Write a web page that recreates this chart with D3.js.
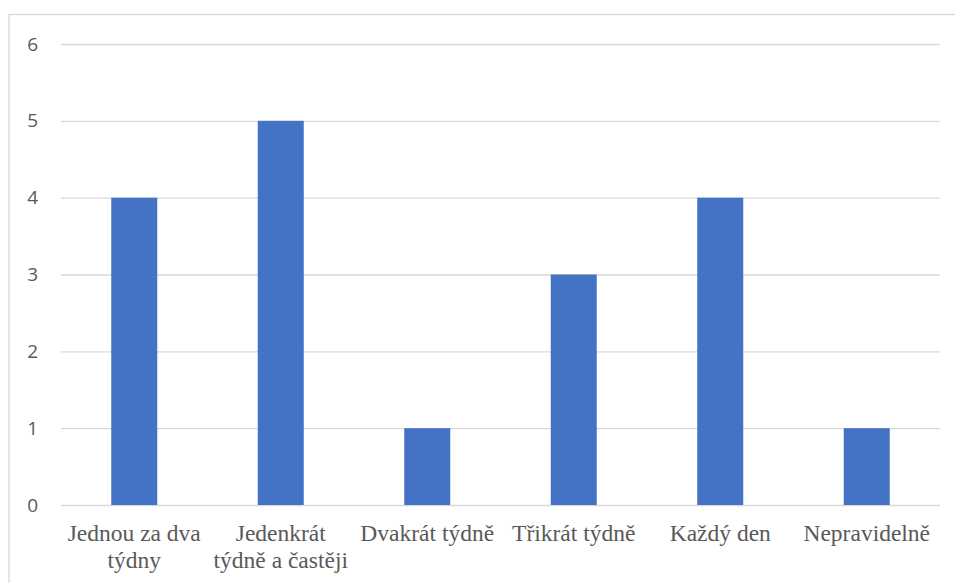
<!DOCTYPE html>
<html>
<head>
<meta charset="utf-8">
<script src="https://cdn.jsdelivr.net/npm/d3@7"></script>
<style>
  html, body { margin: 0; padding: 0; background: #fff; }
  svg { display: block; }
  .cat-label { font-family: "Liberation Serif", "DejaVu Serif", "Times New Roman", serif; font-size: 23.5px; }
  .val-label { font-family: "Open Sans", "Noto Sans", sans-serif; font-size: 19px; }
</style>
</head>
<body>
<svg id="chart" width="955" height="583"></svg>
<script>
// How often – answer categories and counts
const categories = [
  ["Jednou za dva", "týdny"],
  ["Jedenkrát", "týdně a častěji"],
  ["Dvakrát týdně"],
  ["Třikrát týdně"],
  ["Každý den"],
  ["Nepravidelně"]
];
const values = [4, 5, 1, 3, 4, 1];
const yTicks = [0, 1, 2, 3, 4, 5, 6];

const svg = d3.select("#chart");
const W = 955, H = 583;
const margin = { left: 61, right: 15, top: 44, bottom: 78 };
const innerW = W - margin.left - margin.right;
const innerH = H - margin.top - margin.bottom;

// Chart area frame
svg.append("rect")
  .attr("x", 9).attr("y", 14.5)
  .attr("width", 960).attr("height", 600)
  .attr("fill", "#fff")
  .attr("stroke", "#d9d9d9").attr("stroke-width", 1.3);

const g = svg.append("g").attr("transform", `translate(${margin.left},${margin.top})`);

const x = d3.scaleBand()
  .domain(categories.map((d, i) => i))
  .range([0, innerW])
  .paddingInner(0.686)
  .paddingOuter(0.343);

const y = d3.scaleLinear().domain([0, 6]).range([innerH, 0]);

// Horizontal gridlines with value labels
const yAxis = d3.axisLeft(y)
  .tickValues(yTicks)
  .tickSize(-innerW)
  .tickPadding(23)
  .tickFormat(d3.format("d"));

const ya = g.append("g").call(yAxis).attr("font-family", null).attr("font-size", null);
ya.select(".domain").remove();
ya.selectAll(".tick line").attr("stroke", "#d9d9d9").attr("stroke-width", 1.3);
ya.selectAll(".tick text")
  .attr("class", "val-label")
  .attr("fill", "#595959");

// Bars
g.selectAll("rect.bar")
  .data(values)
  .join("rect")
  .attr("class", "bar")
  .attr("x", (d, i) => x(i))
  .attr("y", d => y(d))
  .attr("width", x.bandwidth())
  .attr("height", d => y(0) - y(d))
  .attr("fill", "#4472c4");

// Category labels
const xAxis = d3.axisBottom(x).tickSize(0).tickFormat(() => "");
const xa = g.append("g").attr("transform", `translate(0,${innerH})`).call(xAxis)
  .attr("font-family", null).attr("font-size", null);
xa.select(".domain").remove();
xa.selectAll(".tick text").remove();
xa.selectAll(".tick").each(function(i) {
  const t = d3.select(this).append("text")
    .attr("class", "cat-label")
    .attr("text-anchor", "middle")
    .attr("fill", "#595959");
  categories[i].forEach((line, k) => {
    t.append("tspan").attr("x", 0).attr("y", 36 + k * 27).text(line);
  });
});
</script>
</body>
</html>
